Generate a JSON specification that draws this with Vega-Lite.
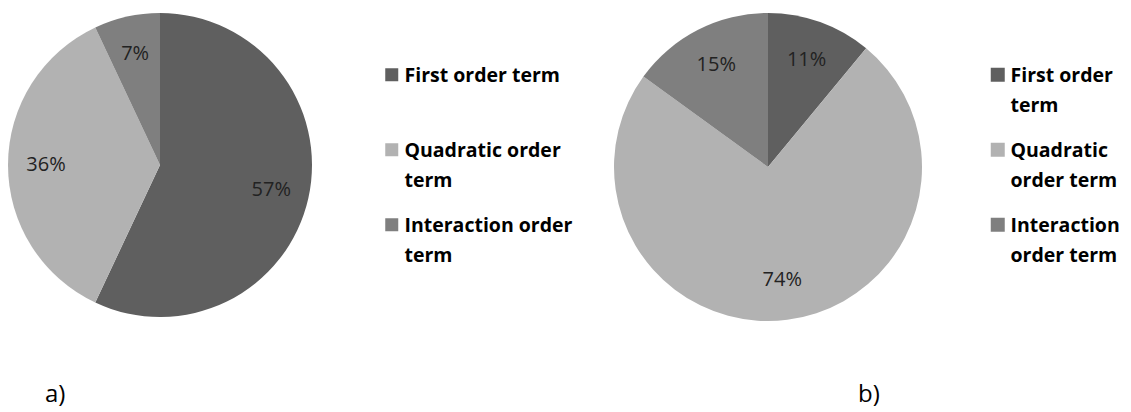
{
  "$schema": "https://vega.github.io/schema/vega-lite/v6.json",
  "padding": {"left": 0, "top": 0, "right": 0, "bottom": 8},
  "background": "white",
  "spacing": 293,
  "bounds": "flush",
  "config": {"view": {"stroke": null}, "font": "Open Sans"},
  "resolve": {"scale": {"color": "independent", "theta": "independent"}, "legend": {"color": "independent"}},
  "hconcat": [
    {
      "width": 320,
      "height": 330,
      "title": {"text": "a)", "orient": "bottom", "anchor": "start", "dx": 45, "offset": 53, "fontSize": 24, "fontWeight": "normal", "font": "Open Sans", "color": "#000000"},
      "data": {"values": [
        {"term": "First order term", "k": 1, "v": 0.57},
        {"term": "Quadratic order term", "k": 2, "v": 0.36},
        {"term": "Interaction order term", "k": 3, "v": 0.07}
      ]},
      "encoding": {
        "theta": {"field": "v", "type": "quantitative", "stack": true},
        "order": {"field": "k", "type": "quantitative"}
      },
      "layer": [
        {
          "mark": {"type": "arc", "radius": 152},
          "encoding": {
            "color": {
              "field": "term", "type": "nominal",
              "scale": {"domain": ["First order term", "Quadratic order term", "Interaction order term"], "range": ["#5f5f5f", "#b2b2b2", "#7f7f7f"]},
              "legend": {
                "orient": "none", "legendX": 382, "legendY": 65, "title": null,
                "symbolType": "square", "symbolSize": 169, "symbolStrokeWidth": 0, "symbolOpacity": 1,
                "labelFont": "Open Sans", "labelFontWeight": "bold", "labelFontSize": 19.5, "labelColor": "#000000",
                "labelLimit": 400, "labelOffset": 3, "rowPadding": 24, "labelBaseline": "top",
                "labelExpr": "datum.label == 'First order term' ? ['First order term', ''] : datum.label == 'Quadratic order term' ? ['Quadratic order', 'term'] : ['Interaction order', 'term']",
                "encode": {"labels": {"update": {"lineHeight": {"value": 30}, "dy": {"value": -8}}}}
              }
            }
          }
        },
        {
          "mark": {"type": "text", "radius": 114, "fontSize": 20, "color": "#222222", "font": "Open Sans"},
          "encoding": {"text": {"field": "v", "type": "quantitative", "format": ".0%"}}
        }
      ]
    },
    {
      "width": 310,
      "height": 334,
      "title": {"text": "b)", "orient": "bottom", "anchor": "start", "dx": 245, "offset": 49, "fontSize": 24, "fontWeight": "normal", "font": "Open Sans", "color": "#000000"},
      "data": {"values": [
        {"term": "First order term", "k": 1, "v": 0.11},
        {"term": "Quadratic order term", "k": 2, "v": 0.74},
        {"term": "Interaction order term", "k": 3, "v": 0.15}
      ]},
      "encoding": {
        "theta": {"field": "v", "type": "quantitative", "stack": true},
        "order": {"field": "k", "type": "quantitative"}
      },
      "layer": [
        {
          "mark": {"type": "arc", "radius": 154},
          "encoding": {
            "color": {
              "field": "term", "type": "nominal",
              "scale": {"domain": ["First order term", "Quadratic order term", "Interaction order term"], "range": ["#5f5f5f", "#b2b2b2", "#7f7f7f"]},
              "legend": {
                "orient": "none", "legendX": 375, "legendY": 65, "title": null,
                "symbolType": "square", "symbolSize": 196, "symbolStrokeWidth": 0, "symbolOpacity": 1,
                "labelFont": "Open Sans", "labelFontWeight": "bold", "labelFontSize": 19.5, "labelColor": "#000000",
                "labelLimit": 400, "labelOffset": 3, "rowPadding": 24, "labelBaseline": "top",
                "labelExpr": "datum.label == 'First order term' ? ['First order', 'term'] : datum.label == 'Quadratic order term' ? ['Quadratic', 'order term'] : ['Interaction', 'order term']",
                "encode": {"labels": {"update": {"lineHeight": {"value": 30}, "dy": {"value": -8}}}}
              }
            }
          }
        },
        {
          "mark": {"type": "text", "radius": 114, "fontSize": 20, "color": "#222222", "font": "Open Sans"},
          "encoding": {"text": {"field": "v", "type": "quantitative", "format": ".0%"}}
        }
      ]
    }
  ]
}
